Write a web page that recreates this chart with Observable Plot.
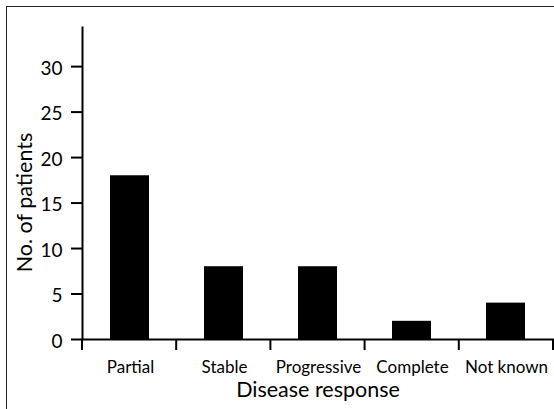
<!DOCTYPE html>
<html>
<head>
<meta charset="utf-8">
<script src="https://cdn.jsdelivr.net/npm/d3@7"></script>
<script src="https://cdn.jsdelivr.net/npm/@observablehq/plot@0.6"></script>
<style>
  html, body { margin: 0; padding: 0; background: #fff; }
  #wrap { position: relative; width: 554px; height: 409px; overflow: hidden; }
  #border { position: absolute; left: 6px; top: 6px; width: 700px; height: 600px;
            border-left: 1.5px solid #222; border-top: 1.5px solid #222; }
  #chart { position: absolute; left: 0; top: 0; }
</style>
</head>
<body>
<div id="wrap"><div id="border"></div><div id="chart"></div></div>
<script>
const categories = ["Partial", "Stable", "Progressive", "Complete", "Not known"];
const patients = [18, 8, 8, 2, 4];
const yTicks = [0, 5, 10, 15, 20, 25, 30];
const xTitle = "Disease response";
const yTitle = "No. of patients";

const data = categories.map((c, i) => ({category: c, value: patients[i]}));
const font = "Lato, 'Open Sans', sans-serif";

const plot = Plot.plot({
  width: 554,
  height: 409,
  marginLeft: 82,
  marginRight: 1,
  marginTop: 27,
  marginBottom: 70,
  style: {fontFamily: font, background: "transparent", color: "#000"},
  x: {domain: categories, padding: 0},
  y: {domain: [0, 34.3]},
  marks: [
    Plot.barY(data, {x: "category", y: "value", fill: "#000", insetLeft: 27, insetRight: 28}),
    Plot.frame({anchor: "left", stroke: "#000", strokeWidth: 2}),
    Plot.frame({anchor: "bottom", stroke: "#000", strokeWidth: 2}),
    Plot.axisY({ticks: yTicks, tickSize: 11, tickFormat: () => "", strokeWidth: 2, label: null}),
    Plot.axisY({ticks: yTicks, tickSize: 0, tickPadding: 20, fontSize: 19, dy: 2, label: null}),
    Plot.axisX({tickSize: 0, tickPadding: 21, fontSize: 17, label: null}),
    Plot.text([xTitle], {frameAnchor: "bottom", dy: 51, fontSize: 21.5, textAnchor: "middle", lineAnchor: "middle"}),
    Plot.text([yTitle], {frameAnchor: "left", dx: -57, dy: 19, rotate: -90, fontSize: 21.5, textAnchor: "middle", lineAnchor: "middle"})
  ]
});

document.getElementById("chart").appendChild(plot);

// category boundary tick marks below the x axis, from the library's x scale
const xs = plot.scale("x");
const ys = plot.scale("y");
const step = (xs.range[1] - xs.range[0]) / categories.length;
const y0 = ys.apply(0);
const svg = d3.select(plot);
const bounds = d3.range(categories.length + 1).map(i => xs.range[0] + i * step);
svg.append("g")
  .attr("stroke", "#000")
  .attr("stroke-width", 2)
  .selectAll("line")
  .data(bounds)
  .join("line")
  .attr("x1", d => Math.min(d, 553))
  .attr("x2", d => Math.min(d, 553))
  .attr("y1", y0)
  .attr("y2", y0 + 11);
</script>
</body>
</html>
